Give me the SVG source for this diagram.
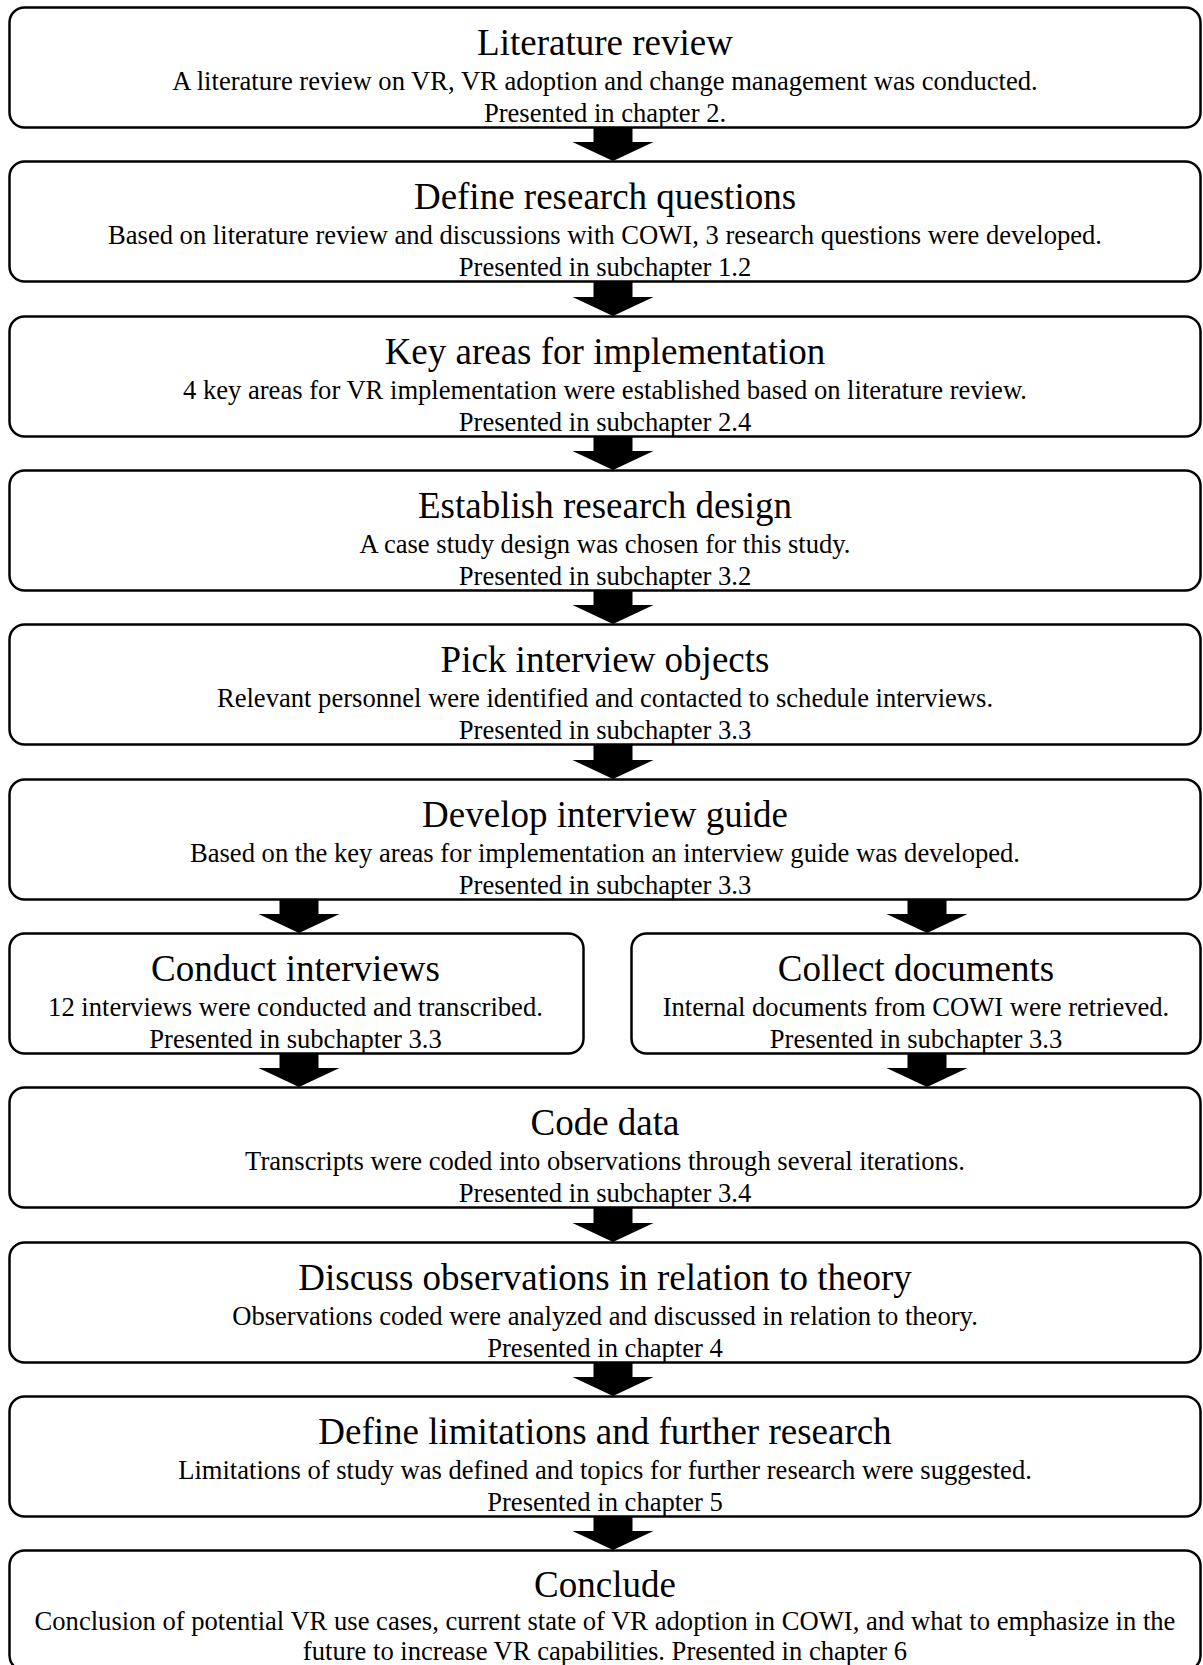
<svg xmlns="http://www.w3.org/2000/svg" width="1203" height="1665" viewBox="0 0 1203 1665">
  <style>
    .box { fill: #ffffff; stroke: #000000; stroke-width: 2.5; }
    .title { font-family: "Liberation Serif", "Times New Roman", serif; font-size: 37px; fill: #000000; text-anchor: middle; }
    .body { font-family: "Liberation Serif", "Times New Roman", serif; font-size: 26.6px; fill: #000000; text-anchor: middle; }
    .arrow { fill: #000000; stroke: none; }
  </style>
  <defs>
    <!-- block arrow pointing down: tip at (0,0), 34px tall -->
    <polygon id="down" points="-19.5,-34 19.5,-34 19.5,-19 40.5,-19 0,0 -40.5,-19 -19.5,-19"/>
  </defs>
  <rect width="1203" height="1665" fill="#ffffff"/>

  <g id="connectors" class="arrow">
    <use href="#down" x="613" y="161"/>
    <use href="#down" x="613" y="316"/>
    <use href="#down" x="613" y="470"/>
    <use href="#down" x="613" y="624"/>
    <use href="#down" x="613" y="779"/>
    <use href="#down" x="299" y="933"/>
    <use href="#down" x="927" y="933"/>
    <use href="#down" x="299" y="1087"/>
    <use href="#down" x="927" y="1087"/>
    <use href="#down" x="613" y="1242"/>
    <use href="#down" x="613" y="1396"/>
    <use href="#down" x="613" y="1550"/>
  </g>

  <g id="literature-review">
    <rect class="box" x="9.5" y="7.5" width="1191" height="120" rx="15"/>
    <text class="title" x="605" y="55">Literature review</text>
    <text class="body" x="605" y="90">A literature review on VR, VR adoption and change management was conducted.</text>
    <text class="body" x="605" y="121.5">Presented in chapter 2.</text>
  </g>

  <g id="research-questions">
    <rect class="box" x="9.5" y="161.5" width="1191" height="120" rx="15"/>
    <text class="title" x="605" y="209">Define research questions</text>
    <text class="body" x="605" y="244">Based on literature review and discussions with COWI, 3 research questions were developed.</text>
    <text class="body" x="605" y="275.5">Presented in subchapter 1.2</text>
  </g>

  <g id="key-areas">
    <rect class="box" x="9.5" y="316.5" width="1191" height="120" rx="15"/>
    <text class="title" x="605" y="364">Key areas for implementation</text>
    <text class="body" x="605" y="399">4 key areas for VR implementation were established based on literature review.</text>
    <text class="body" x="605" y="430.5">Presented in subchapter 2.4</text>
  </g>

  <g id="research-design">
    <rect class="box" x="9.5" y="470.5" width="1191" height="120" rx="15"/>
    <text class="title" x="605" y="518">Establish research design</text>
    <text class="body" x="605" y="553">A case study design was chosen for this study.</text>
    <text class="body" x="605" y="584.5">Presented in subchapter 3.2</text>
  </g>

  <g id="interview-objects">
    <rect class="box" x="9.5" y="624.5" width="1191" height="120" rx="15"/>
    <text class="title" x="605" y="672">Pick interview objects</text>
    <text class="body" x="605" y="707">Relevant personnel were identified and contacted to schedule interviews.</text>
    <text class="body" x="605" y="738.5">Presented in subchapter 3.3</text>
  </g>

  <g id="interview-guide">
    <rect class="box" x="9.5" y="779.5" width="1191" height="120" rx="15"/>
    <text class="title" x="605" y="827">Develop interview guide</text>
    <text class="body" x="605" y="862">Based on the key areas for implementation an interview guide was developed.</text>
    <text class="body" x="605" y="893.5">Presented in subchapter 3.3</text>
  </g>

  <g id="conduct-interviews">
    <rect class="box" x="9.5" y="933.5" width="574" height="120" rx="15"/>
    <text class="title" x="295.5" y="981">Conduct interviews</text>
    <text class="body" x="295.5" y="1016">12 interviews were conducted and transcribed.</text>
    <text class="body" x="295.5" y="1047.5">Presented in subchapter 3.3</text>
  </g>

  <g id="collect-documents">
    <rect class="box" x="631.5" y="933.5" width="569" height="120" rx="15"/>
    <text class="title" x="916" y="981">Collect documents</text>
    <text class="body" x="916" y="1016">Internal documents from COWI were retrieved.</text>
    <text class="body" x="916" y="1047.5">Presented in subchapter 3.3</text>
  </g>

  <g id="code-data">
    <rect class="box" x="9.5" y="1087.5" width="1191" height="120" rx="15"/>
    <text class="title" x="605" y="1135">Code data</text>
    <text class="body" x="605" y="1170">Transcripts were coded into observations through several iterations.</text>
    <text class="body" x="605" y="1201.5">Presented in subchapter 3.4</text>
  </g>

  <g id="discuss-observations">
    <rect class="box" x="9.5" y="1242.5" width="1191" height="120" rx="15"/>
    <text class="title" x="605" y="1290">Discuss observations in relation to theory</text>
    <text class="body" x="605" y="1325">Observations coded were analyzed and discussed in relation to theory.</text>
    <text class="body" x="605" y="1356.5">Presented in chapter 4</text>
  </g>

  <g id="limitations">
    <rect class="box" x="9.5" y="1396.5" width="1191" height="120" rx="15"/>
    <text class="title" x="605" y="1444">Define limitations and further research</text>
    <text class="body" x="605" y="1479">Limitations of study was defined and topics for further research were suggested.</text>
    <text class="body" x="605" y="1510.5">Presented in chapter 5</text>
  </g>

  <g id="conclude">
    <rect class="box" x="9.5" y="1550.5" width="1191" height="120" rx="15"/>
    <text class="title" x="605" y="1597">Conclude</text>
    <text class="body" x="605" y="1630">Conclusion of potential VR use cases, current state of VR adoption in COWI, and what to emphasize in the</text>
    <text class="body" x="605" y="1660">future to increase VR capabilities. Presented in chapter 6</text>
  </g>
</svg>
